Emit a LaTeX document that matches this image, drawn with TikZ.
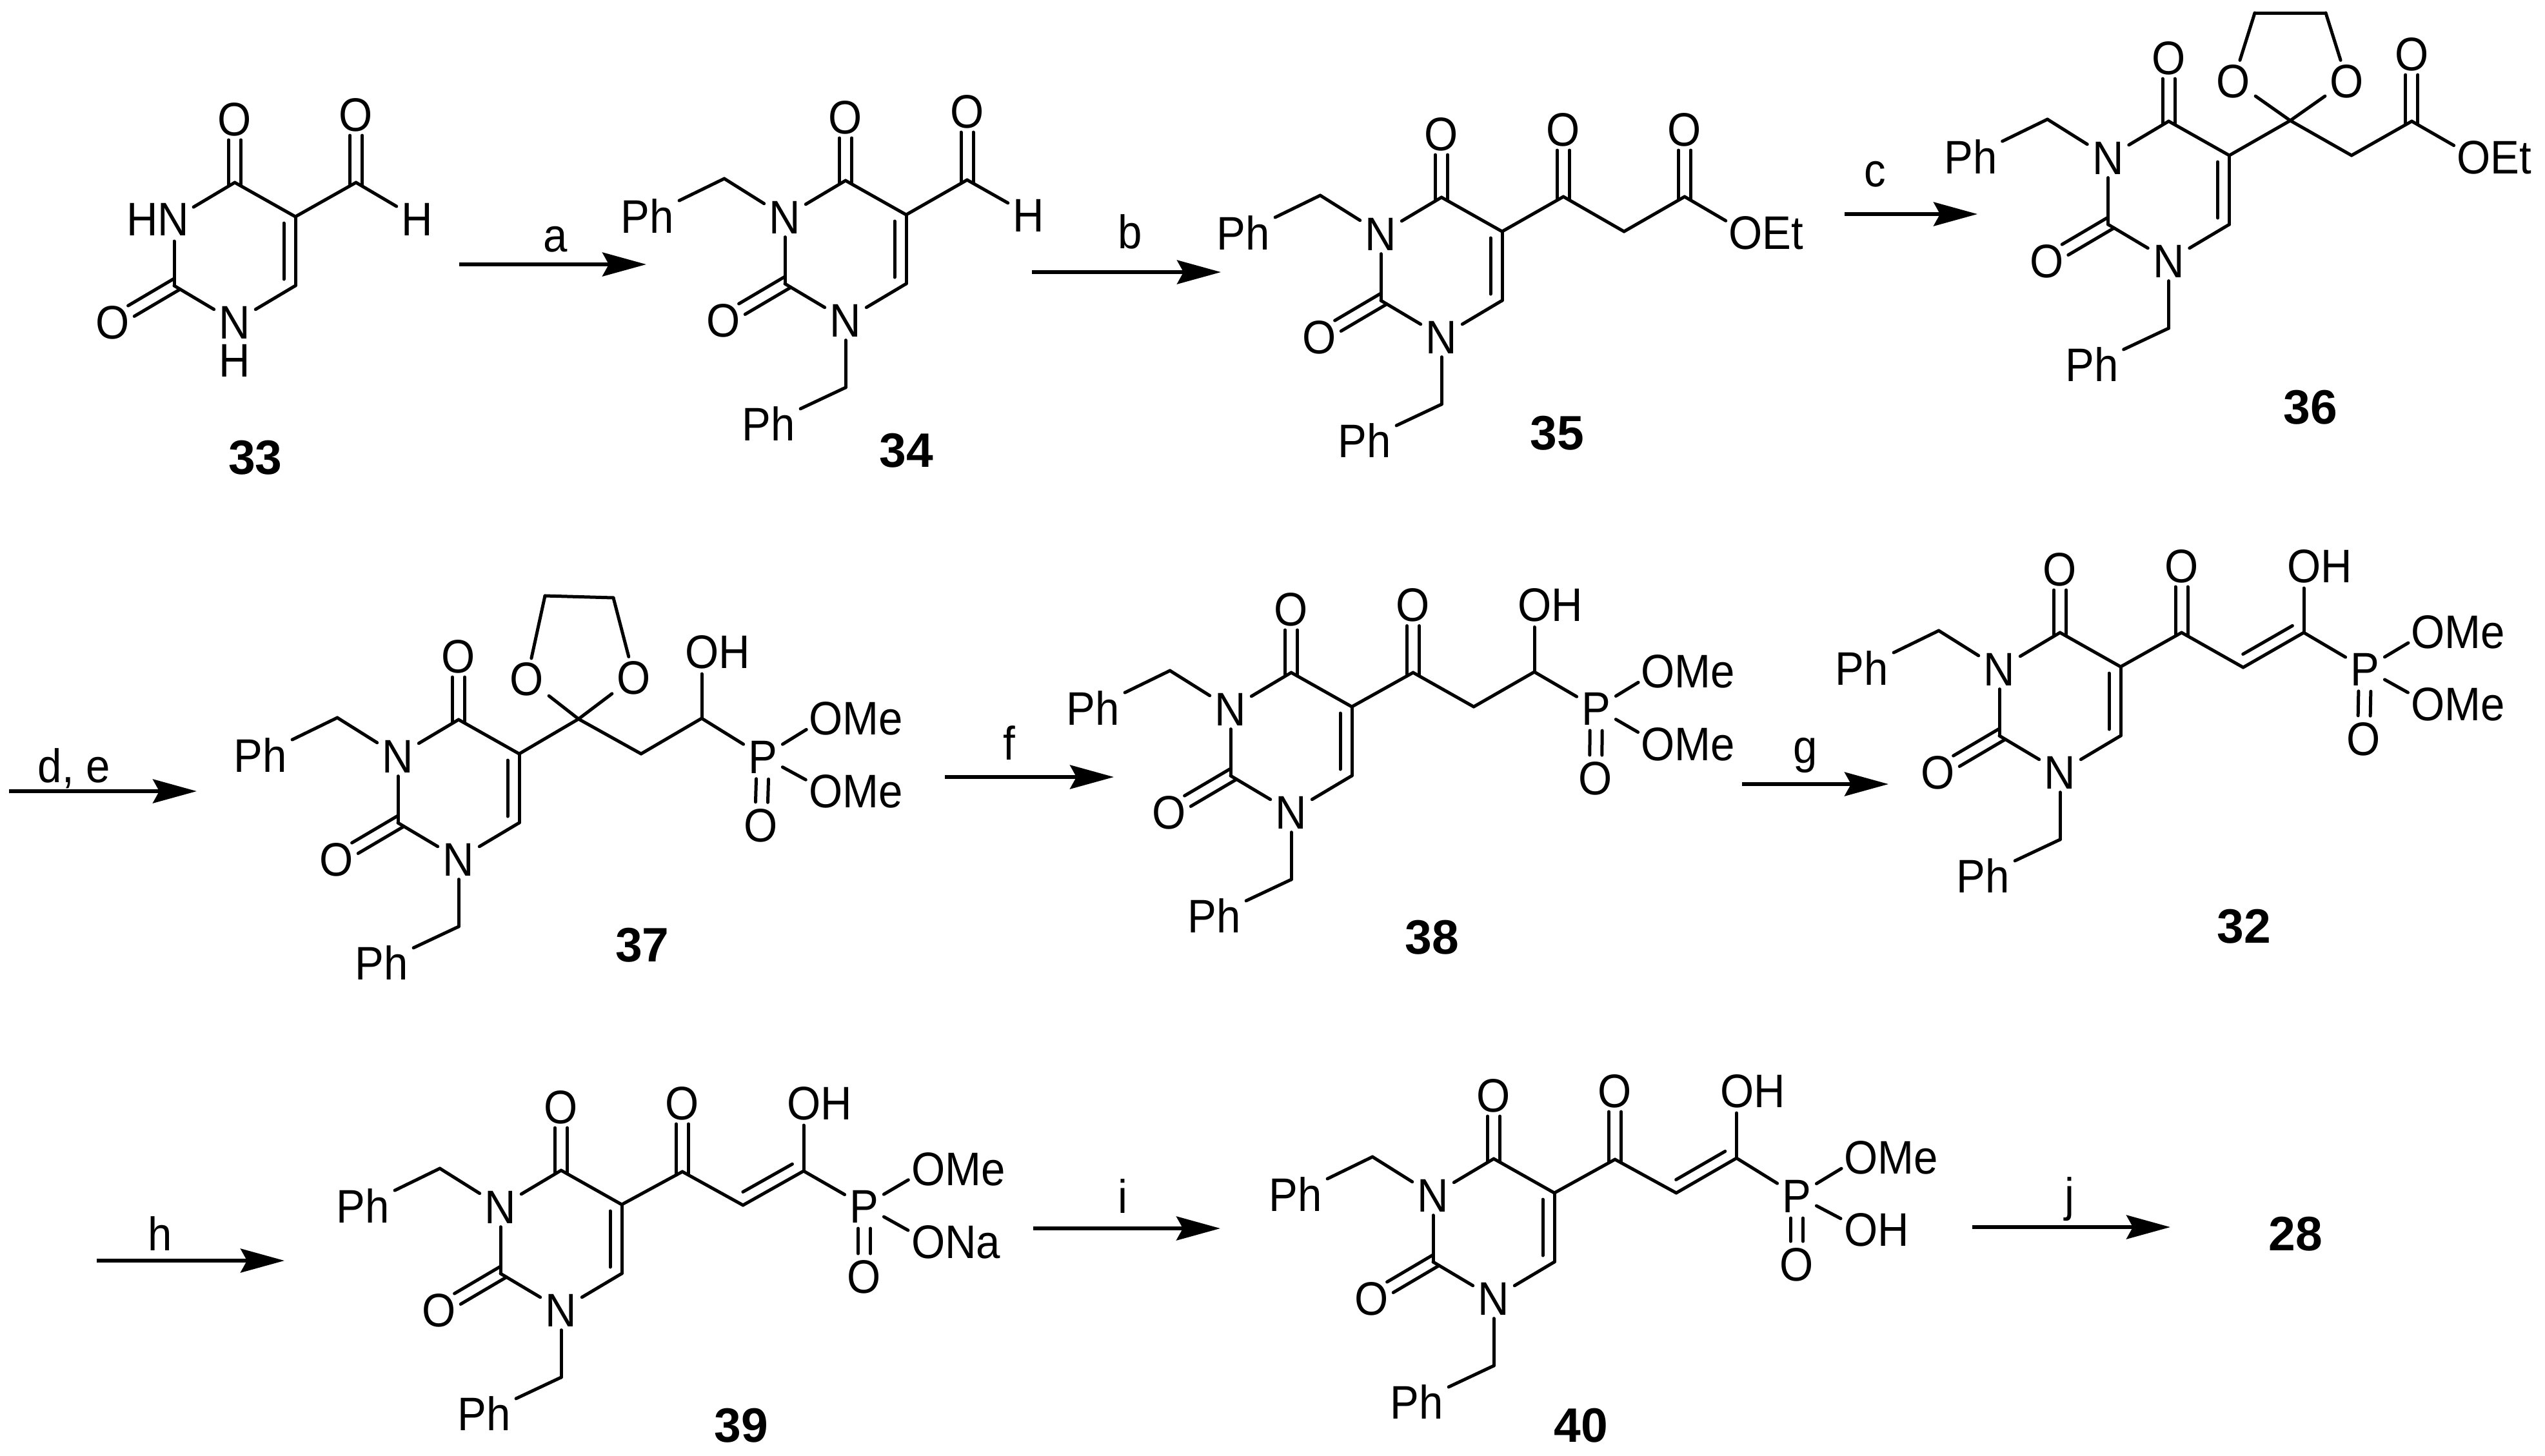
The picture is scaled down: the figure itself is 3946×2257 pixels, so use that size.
\documentclass[tikz,border=0pt]{standalone}
\usepackage{fontspec}
\setmainfont[FakeStretch=0.92]{Liberation Sans}
\newfontfamily\numfam{Liberation Sans}
\usetikzlibrary{calc,arrows.meta}
\newcommand\atomf{\fontsize{14.6pt}{16pt}\selectfont}
\newcommand\numf{\fontsize{15pt}{17pt}\numfam\bfseries\selectfont}
\tikzset{
  bond/.style={line width=1pt,line cap=round,line join=round},
  grpbond/.style={bond,shorten >=7pt},
  atom/.style={inner xsep=1.4pt,inner ysep=0.9pt,text height=10.45pt,text depth=0pt,font=\atomf},
  grpw/.style={inner sep=0pt,anchor=west,xshift=-5.3pt,text height=10.45pt,text depth=0pt,font=\atomf},
  grpe/.style={inner sep=0pt,anchor=east,xshift=4.9pt,text height=10.45pt,text depth=0pt,font=\atomf},
  cond/.style={inner sep=0pt,anchor=base,font=\atomf},
  cpd/.style={inner sep=0pt,text height=10.74pt,text depth=0pt,font=\numf},
  rxn/.style={line width=1.1pt,-{Stealth[length=13.6pt,width=7.4pt,inset=2pt]}}
}
% carbon = O double bond
\newcommand\dbl[2]{%
  \draw[bond,shorten <=-1pt,shorten >=6.6pt] ($(#1.center)!1.9pt!90:(#2.center)$) -- ($(#2.center)!1.9pt!-90:(#1.center)$);
  \draw[bond,shorten <=-1pt,shorten >=6.6pt] ($(#1.center)!1.9pt!-90:(#2.center)$) -- ($(#2.center)!1.9pt!90:(#1.center)$);}
% P = O double bond
\newcommand\pdbl[2]{%
  \draw[bond,shorten <=7pt,shorten >=7pt] ($(#1.center)!1.9pt!90:(#2.center)$) -- ($(#2.center)!1.9pt!-90:(#1.center)$);
  \draw[bond,shorten <=7pt,shorten >=7pt] ($(#1.center)!1.9pt!-90:(#2.center)$) -- ($(#2.center)!1.9pt!90:(#1.center)$);}
% C = C: main bond plus inner line
\newcommand\cc[4]{%
  \draw[bond] (#1) -- (#2);
  \draw[bond,shorten <=2pt,shorten >=2pt] ($(#1.center)!3.6pt!#3:(#2.center)$) -- ($(#2.center)!3.6pt!#4:(#1.center)$);}
% group label whose bond goes to its first letter
\newcommand\grp[4]{\coordinate (#1) at (#2,#3); \node[grpw] (#1t) at (#2,#3) {#4};}
% the ring without N3
\newcommand\ringcore[3]{%
  \begin{scope}[shift={(#2,#3)}]
    \coordinate (#1c5) at (0,0);
    \coordinate (#1c4) at (-94,-53);
    \coordinate (#1c6) at (0,107);
    \coordinate (#1c2) at (-188,107);
    \node[atom] (#1n1) at (-94,163) {N};
    \node[atom] (#1o4) at (-94,-152) {O};
    \node[atom] (#1o2) at (-283,163) {O};
  \end{scope}
  \draw[bond] (#1c4) -- (#1c5);
  \cc{#1c5}{#1c6}{-90}{90}
  \draw[bond] (#1c6) -- (#1n1);
  \draw[bond] (#1c2) -- (#1n1);
  \dbl{#1c4}{#1o4}
  \dbl{#1c2}{#1o2}}
% N,N-dibenzyl ring
\newcommand\uracil[3]{%
  \ringcore{#1}{#2}{#3}
  \begin{scope}[shift={(#2,#3)}]
    \node[atom] (#1n3) at (-188,3) {N};
    \coordinate (#1cha) at (-282,-56);
    \node[atom] (#1pha) at (-401,2) {Ph};
    \coordinate (#1chb) at (-94,268);
    \node[atom] (#1phb) at (-213,324) {Ph};
  \end{scope}
  \draw[bond] (#1c4) -- (#1n3);
  \draw[bond] (#1c2) -- (#1n3);
  \draw[bond] (#1n3) -- (#1cha);
  \draw[bond] (#1cha) -- (#1pha);
  \draw[bond] (#1n1) -- (#1chb);
  \draw[bond] (#1chb) -- (#1phb);}
\begin{document}
\begin{tikzpicture}[x=0.2pt,y=-0.2pt]
\useasboundingbox (0,0) rectangle (3946,2257);

% ---- 33
\ringcore{a}{458}{336}
\coordinate (ahn) at (270,339);
\node[grpe] (ahnt) at (270,339) {HN};
\draw[grpbond] (ac4) -- (ahn);
\draw[grpbond] (ac2) -- (ahn);
\node[atom,inner ysep=0pt] (anh) at (364,558) {H};
\coordinate (acho) at (552,283);
\node[atom] (achoo) at (552,177) {O};
\node[atom] (achoh) at (647,339) {H};
\draw[bond] (ac5) -- (acho);
\dbl{acho}{achoo}
\draw[bond] (acho) -- (achoh);
\node[cpd] (n33) at (396,709) {33};

% ---- 34
\uracil{b}{1405}{333}
\coordinate (bcho) at (1499.5,279);
\node[atom] (bchoo) at (1499.5,172) {O};
\node[atom] (bchoh) at (1595,333) {H};
\draw[bond] (bc5) -- (bcho);
\dbl{bcho}{bchoo}
\draw[bond] (bcho) -- (bchoh);
\node[cpd] (n34) at (1405,698) {34};

% ---- 35
\uracil{c}{2329}{359}
\coordinate (cket) at (2424,305);
\node[atom] (cketo) at (2424,200) {O};
\coordinate (cch) at (2518,359);
\coordinate (cest) at (2612,305);
\node[atom] (cesto) at (2612,200) {O};
\grp{coet}{2706}{360}{OEt}
\draw[bond] (cc5) -- (cket);
\dbl{cket}{cketo}
\draw[bond] (cket) -- (cch);
\draw[bond] (cch) -- (cest);
\dbl{cest}{cesto}
\draw[grpbond] (cest) -- (coet);
\node[cpd] (n35) at (2414,671) {35};

% ---- 36
\uracil{d}{3456.5}{241}
\coordinate (dsp) at (3551,187);
\node[atom] (dol) at (3463,125) {O};
\node[atom] (dor) at (3639,125) {O};
\coordinate (dtl) at (3496,20);
\coordinate (dtr) at (3606,20);
\coordinate (dch) at (3646,241);
\coordinate (dest) at (3739.4,188);
\node[atom] (desto) at (3739.4,83) {O};
\grp{doet}{3835}{243}{OEt}
\draw[bond] (dc5) -- (dsp);
\draw[bond] (dsp) -- (dol);
\draw[bond] (dsp) -- (dor);
\draw[bond] (dol) -- (dtl);
\draw[bond] (dtl) -- (dtr);
\draw[bond] (dtr) -- (dor);
\draw[bond] (dsp) -- (dch);
\draw[bond] (dch) -- (dest);
\dbl{dest}{desto}
\draw[grpbond] (dest) -- (doet);
\node[cpd] (n36) at (3582,631) {36};

% ---- 37
\uracil{e}{805}{1169}
\coordinate (esp) at (897,1115);
\node[atom] (eol) at (817,1052.5) {O};
\node[atom] (eor) at (983,1050) {O};
\coordinate (etl) at (845,924);
\coordinate (etr) at (951,927);
\coordinate (ech) at (994,1169);
\coordinate (ecoh) at (1088,1114);
\grp{eoh}{1088}{1010}{OH}
\node[atom] (ep) at (1183,1173) {P};
\grp{eome}{1280}{1113}{OMe}
\grp{eomf}{1280}{1226}{OMe}
\node[atom] (epo) at (1180,1279) {O};
\draw[bond] (ec5) -- (esp);
\draw[bond] (esp) -- (eol);
\draw[bond] (esp) -- (eor);
\draw[bond] (eol) -- (etl);
\draw[bond] (etl) -- (etr);
\draw[bond] (etr) -- (eor);
\draw[bond] (esp) -- (ech);
\draw[bond] (ech) -- (ecoh);
\draw[grpbond] (ecoh) -- (eoh);
\draw[bond] (ecoh) -- (ep);
\draw[grpbond] (ep) -- (eome);
\draw[grpbond] (ep) -- (eomf);
\pdbl{ep}{epo}
\node[cpd] (n37) at (996,1465) {37};

% ---- 38
\uracil{f}{2096}{1096}
\coordinate (fket) at (2191,1043);
\node[atom] (fketo) at (2191,937.5) {O};
\coordinate (fch) at (2285,1096);
\coordinate (fcoh) at (2379,1042);
\grp{foh}{2379}{937.5}{OH}
\node[atom] (fp) at (2475,1098) {P};
\grp{fome}{2570}{1040}{OMe}
\grp{fomf}{2570}{1153}{OMe}
\node[atom] (fpo) at (2474,1206) {O};
\draw[bond] (fc5) -- (fket);
\dbl{fket}{fketo}
\draw[bond] (fket) -- (fch);
\draw[bond] (fch) -- (fcoh);
\draw[grpbond] (fcoh) -- (foh);
\draw[bond] (fcoh) -- (fp);
\draw[grpbond] (fp) -- (fome);
\draw[grpbond] (fp) -- (fomf);
\pdbl{fp}{fpo}
\node[cpd] (n38) at (2220,1453) {38};

% ---- 32
\uracil{g}{3288}{1034}
\coordinate (gket) at (3382.5,981);
\node[atom] (gketo) at (3382.5,877) {O};
\coordinate (gch) at (3478,1035);
\coordinate (gcoh) at (3572,981);
\grp{goh}{3572}{877}{OH}
\node[atom] (gp) at (3667,1037) {P};
\grp{gome}{3764}{979}{OMe}
\grp{gomf}{3764}{1091}{OMe}
\node[atom] (gpo) at (3665,1145) {O};
\draw[bond] (gc5) -- (gket);
\dbl{gket}{gketo}
\draw[bond] (gket) -- (gch);
\cc{gch}{gcoh}{90}{-90}
\draw[grpbond] (gcoh) -- (goh);
\draw[bond] (gcoh) -- (gp);
\draw[grpbond] (gp) -- (gome);
\draw[grpbond] (gp) -- (gomf);
\pdbl{gp}{gpo}
\node[cpd] (n32) at (3479,1436) {32};

% ---- 39
\uracil{h}{964}{1868}
\coordinate (hket) at (1058,1817);
\node[atom] (hketo) at (1058,1710) {O};
\coordinate (hch) at (1152,1869);
\coordinate (hcoh) at (1246,1816);
\grp{hoh}{1246}{1710}{OH}
\node[atom] (hp) at (1340,1870) {P};
\grp{home}{1438.5}{1812}{OMe}
\grp{hona}{1438.5}{1925}{ONa}
\node[atom] (hpo) at (1340,1979) {O};
\draw[bond] (hc5) -- (hket);
\dbl{hket}{hketo}
\draw[bond] (hket) -- (hch);
\cc{hch}{hcoh}{90}{-90}
\draw[grpbond] (hcoh) -- (hoh);
\draw[bond] (hcoh) -- (hp);
\draw[grpbond] (hp) -- (home);
\draw[grpbond] (hp) -- (hona);
\pdbl{hp}{hpo}
\node[cpd] (n39) at (1149,2210) {39};

% ---- 40
\uracil{k}{2410}{1850}
\coordinate (kket) at (2504,1798);
\node[atom] (kketo) at (2504,1691) {O};
\coordinate (kch) at (2599,1850);
\coordinate (kcoh) at (2692.5,1796);
\grp{koh}{2692.5}{1691}{OH}
\node[atom] (kp) at (2786,1854) {P};
\grp{kome}{2885}{1794}{OMe}
\grp{kphoh}{2885}{1906}{OH}
\node[atom] (kpo) at (2786,1960) {O};
\draw[bond] (kc5) -- (kket);
\dbl{kket}{kketo}
\draw[bond] (kket) -- (kch);
\cc{kch}{kcoh}{90}{-90}
\draw[grpbond] (kcoh) -- (koh);
\draw[bond] (kcoh) -- (kp);
\draw[grpbond] (kp) -- (kome);
\draw[grpbond] (kp) -- (kphoh);
\pdbl{kp}{kpo}
\node[cpd] (n40) at (2451,2210) {40};

\node[cpd] (n28) at (3559,1913) {28};

% ---- reaction arrows
\coordinate (ra1) at (712,410);   \coordinate (ra2) at (1002,410);
\coordinate (rb1) at (1600,422);  \coordinate (rb2) at (1893,422);
\coordinate (rc1) at (2860,332);  \coordinate (rc2) at (3066,332);
\coordinate (rd1) at (14,1227);   \coordinate (rd2) at (305,1227);
\coordinate (rf1) at (1465,1205); \coordinate (rf2) at (1727,1205);
\coordinate (rg1) at (2701,1216); \coordinate (rg2) at (2928,1216);
\coordinate (rh1) at (150,1955);  \coordinate (rh2) at (441,1955);
\coordinate (ri1) at (1602,1905); \coordinate (ri2) at (1892,1905);
\coordinate (rj1) at (3058,1903); \coordinate (rj2) at (3365,1903);
\draw[rxn] (ra1) -- (ra2);
\draw[rxn] (rb1) -- (rb2);
\draw[rxn] (rc1) -- (rc2);
\draw[rxn] (rd1) -- (rd2);
\draw[rxn] (rf1) -- (rf2);
\draw[rxn] (rg1) -- (rg2);
\draw[rxn] (rh1) -- (rh2);
\draw[rxn] (ri1) -- (ri2);
\draw[rxn] (rj1) -- (rj2);
\node[cond] (la) at (861,390) {a};
\node[cond] (lb) at (1752,385) {b};
\node[cond] (lc) at (2907,289) {c};
\node[cond] (ld) at (115,1213) {d, e};
\node[cond] (lf) at (1565,1178) {f};
\node[cond] (lg) at (2799,1183) {g};
\node[cond] (lh) at (248,1939) {h};
\node[cond] (li) at (1741,1881) {i};
\node[cond] (lj) at (3209,1878) {j};
\end{tikzpicture}
\end{document}
